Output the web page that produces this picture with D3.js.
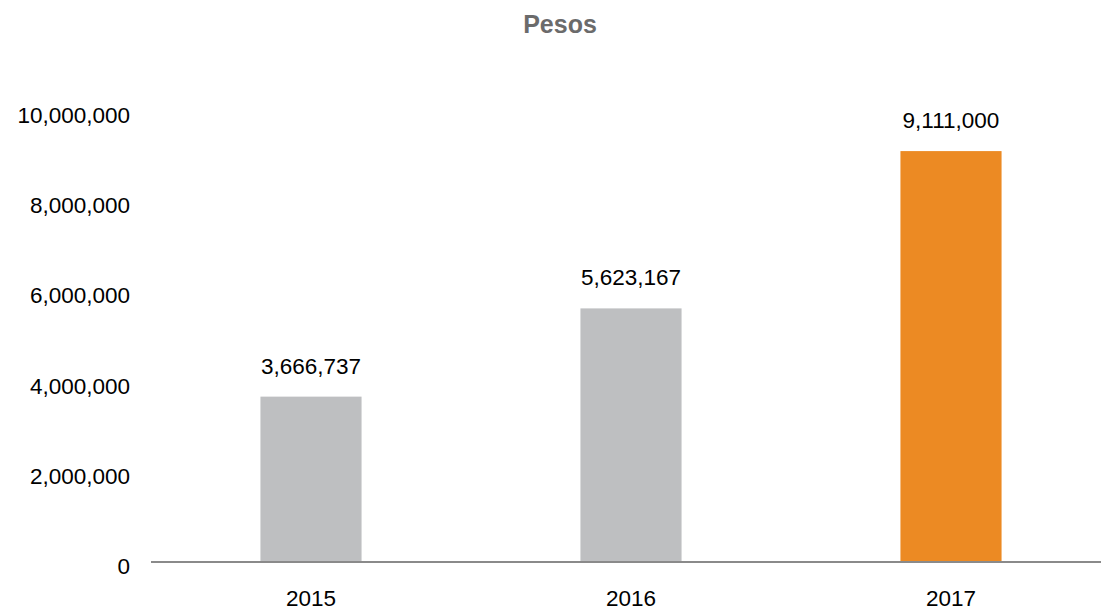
<!DOCTYPE html>
<html><head><meta charset="utf-8">
<script src="https://cdn.jsdelivr.net/npm/d3@7"></script>
<style>body{margin:0;background:#fff}svg{display:block}</style>
</head><body><svg id="c" width="1101" height="612"></svg>
<script>
const categories = ["2015","2016","2017"];
const values = [3666737, 5623167, 9111000];
const colors = ["#bebfc1","#bebfc1","#ec8a23"];
const yTicks = [0,2000000,4000000,6000000,8000000,10000000];
const title = "Pesos";

const svg = d3.select("#c");
const font = "'Liberation Sans', Helvetica, Arial, sans-serif";
const x = d3.scaleBand().domain(categories).range([151,1111]).paddingInner(0.684).paddingOuter(0.342);
const y = d3.scaleLinear().domain([0,10000000]).range([562,111]);
const fmt = d3.format(",");

svg.append("text").attr("x",560).attr("y",33).attr("text-anchor","middle")
  .attr("font-family",font).attr("font-size",25).attr("font-weight","bold").attr("fill","#6b6b6b").text(title);

svg.selectAll("text.yl").data(yTicks).enter().append("text").attr("class","yl")
  .attr("x",130).attr("y",d=>y(d)+12).attr("text-anchor","end")
  .attr("font-family",font).attr("font-size",22.5).attr("fill","#000").text(d=>fmt(d));

svg.selectAll("rect.bar").data(values).enter().append("rect").attr("class","bar")
  .attr("x",(d,i)=>x(categories[i])).attr("width",x.bandwidth())
  .attr("y",d=>y(d)).attr("height",d=>y(0)-y(d)).attr("fill",(d,i)=>colors[i]);

svg.selectAll("text.vl").data(values).enter().append("text").attr("class","vl")
  .attr("x",(d,i)=>x(categories[i])+x.bandwidth()/2).attr("y",d=>y(d)-23).attr("text-anchor","middle")
  .attr("font-family",font).attr("font-size",22.5).attr("fill","#000").text(d=>fmt(d));

svg.append("line").attr("x1",151).attr("x2",1101).attr("y1",y(0)).attr("y2",y(0))
  .attr("stroke","#8a8a8a").attr("stroke-width",2);

svg.selectAll("text.xl").data(categories).enter().append("text").attr("class","xl")
  .attr("x",d=>x(d)+x.bandwidth()/2).attr("y",605.5).attr("text-anchor","middle")
  .attr("font-family",font).attr("font-size",22.5).attr("fill","#000").text(d=>d);
</script></body></html>
